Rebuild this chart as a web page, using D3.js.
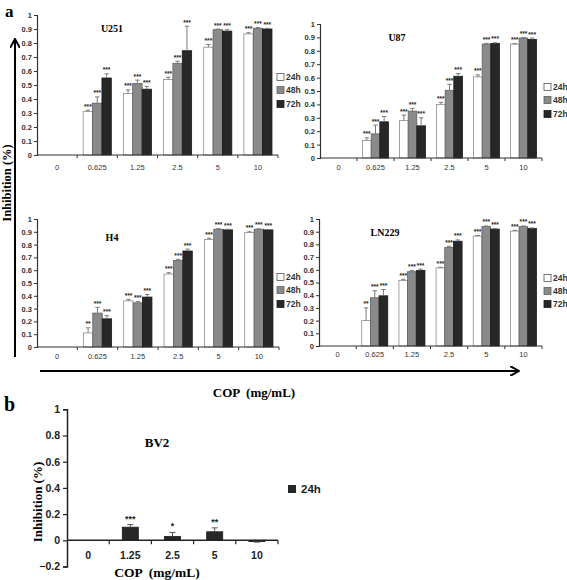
<!DOCTYPE html>
<html><head><meta charset="utf-8">
<script src="https://cdn.jsdelivr.net/npm/d3@7"></script>
<style>
html,body{margin:0;padding:0;background:#fff;}
svg{display:block;}
.serif{font-family:"Liberation Serif","DejaVu Serif",serif;font-weight:bold;}
.sans{font-family:"Liberation Sans",Arial,sans-serif;}
</style></head>
<body>
<svg id="chart" width="567" height="580"></svg>
<script>
// ---------- DATA ----------
const categories = ["0", "0.625", "1.25", "2.5", "5", "10"];
const seriesNames = ["24h", "48h", "72h"];
const yTickValues = [0, 0.1, 0.2, 0.3, 0.4, 0.5, 0.6, 0.7, 0.8, 0.9, 1];

// means per series (24h, 48h, 72h), one value per category
const u251Means = [
  [null, 0.31, 0.44, 0.54, 0.77, 0.865],
  [null, 0.37, 0.51, 0.655, 0.895, 0.905],
  [null, 0.55, 0.47, 0.745, 0.885, 0.90]
];
const u251Errs = [
  [null, 0.01, 0.025, 0.015, 0.02, 0.008],
  [null, 0.045, 0.025, 0.015, 0.005, 0.005],
  [null, 0.03, 0.02, 0.175, 0.01, 0.005]
];
const u251Stars = [
  ["", "***", "***", "***", "***", "***"],
  ["", "***", "***", "***", "***", "***"],
  ["", "***", "***", "***", "***", "***"]
];

const u87Means = [
  [null, 0.13, 0.28, 0.40, 0.605, 0.85],
  [null, 0.18, 0.35, 0.505, 0.85, 0.895],
  [null, 0.27, 0.24, 0.61, 0.855, 0.885]
];
const u87Errs = [
  [null, 0.02, 0.04, 0.015, 0.015, 0.003],
  [null, 0.065, 0.02, 0.045, 0.005, 0.003],
  [null, 0.04, 0.06, 0.02, 0.005, 0.01]
];
const u87Stars = [
  ["", "***", "***", "***", "***", "***"],
  ["", "***", "***", "***", "***", "***"],
  ["", "***", "***", "***", "***", "***"]
];

const h4Means = [
  [null, 0.11, 0.36, 0.57, 0.84, 0.895],
  [null, 0.265, 0.345, 0.675, 0.92, 0.92],
  [null, 0.22, 0.39, 0.75, 0.915, 0.915]
];
const h4Errs = [
  [null, 0.04, 0.01, 0.01, 0.01, 0.005],
  [null, 0.045, 0.01, 0.01, 0.005, 0.003],
  [null, 0.025, 0.02, 0.015, 0.005, 0.003]
];
const h4Stars = [
  ["", "**", "***", "***", "***", "***"],
  ["", "***", "***", "***", "***", "***"],
  ["", "***", "***", "***", "***", "***"]
];

const ln229Means = [
  [null, 0.20, 0.515, 0.615, 0.865, 0.905],
  [null, 0.38, 0.585, 0.775, 0.94, 0.94],
  [null, 0.395, 0.595, 0.825, 0.92, 0.925]
];
const ln229Errs = [
  [null, 0.10, 0.01, 0.005, 0.005, 0.005],
  [null, 0.055, 0.01, 0.01, 0.005, 0.005],
  [null, 0.05, 0.01, 0.01, 0.005, 0.005]
];
const ln229Stars = [
  ["", "**", "***", "***", "***", "***"],
  ["", "***", "***", "***", "***", "***"],
  ["", "***", "***", "***", "***", "***"]
];

const bv2Categories = ["0", "1.25", "2.5", "5", "10"];
const bv2Means = [null, 0.10, 0.03, 0.065, -0.01];
const bv2Errs = [null, 0.02, 0.03, 0.03, 0.004];
const bv2Stars = ["", "***", "*", "**", ""];
const bv2YTicks = [-0.2, 0, 0.2, 0.4, 0.6, 0.8, 1];

// ---------- STYLE ----------
const fills = ["#ffffff", "#8a8a8a", "#272727"];
const strokes = ["#8c8c8c", "#5e5e5e", "#1a1a1a"];

const svg = d3.select("#chart");

function drawPanel(p) {
  const g = svg.append("g");
  const x = d3.scaleBand().domain(categories).range([p.x0, p.x1]).padding(0);
  const step = x.step();
  const xs = d3.scaleBand().domain(seriesNames).range([step * 0.15, step * 0.85]).padding(0);
  const y = d3.scaleLinear().domain([0, 1]).range([p.yZero, p.yTop]);

  seriesNames.forEach((s, si) => {
    categories.forEach((c, ci) => {
      const v = p.means[si][ci];
      if (v == null) return;
      const bx = x(c) + xs(s);
      const bw = xs.bandwidth();
      g.append("rect")
        .attr("x", bx).attr("y", y(v))
        .attr("width", bw).attr("height", y(0) - y(v))
        .attr("fill", fills[si]).attr("stroke", strokes[si]).attr("stroke-width", 0.8);
      const e = p.errs[si][ci];
      const cx = bx + bw / 2;
      const top = y(v + e);
      g.append("line").attr("x1", cx).attr("x2", cx).attr("y1", y(v)).attr("y2", top)
        .attr("stroke", "#7a7a7a").attr("stroke-width", 1);
      g.append("line").attr("x1", cx - 2.2).attr("x2", cx + 2.2).attr("y1", top).attr("y2", top)
        .attr("stroke", "#7a7a7a").attr("stroke-width", 1);
      g.append("text").attr("class", "sans")
        .attr("x", cx).attr("y", top - 1.5)
        .attr("text-anchor", "middle")
        .attr("font-size", 6.5).attr("font-weight", "bold").attr("fill", "#222")
        .text(p.stars[si][ci]);
    });
  });

  const yAxis = d3.axisLeft(y).tickValues(yTickValues).tickSize(3).tickPadding(2)
    .tickFormat(d3.format("~g"));
  const ya = g.append("g").attr("transform", `translate(${p.x0},0)`).call(yAxis);
  ya.select(".domain").attr("stroke", "#333").attr("stroke-width", 1.2);
  ya.selectAll(".tick line").attr("stroke", "#333");
  ya.selectAll("text").attr("class", "sans").attr("font-size", 7.5).attr("font-weight", "bold").attr("fill", "#333");

  const xl = g.append("g");
  xl.append("line").attr("x1", p.x0).attr("x2", p.x1).attr("y1", p.yZero).attr("y2", p.yZero)
    .attr("stroke", "#333").attr("stroke-width", 1.2);
  categories.forEach(c => {
    const ex = x(c) + step;
    xl.append("line").attr("x1", ex).attr("x2", ex).attr("y1", p.yZero).attr("y2", p.yZero + 3)
      .attr("stroke", "#333");
    xl.append("text").attr("class", "sans")
      .attr("x", x(c) + step / 2).attr("y", p.labelY)
      .attr("text-anchor", "middle").attr("font-size", 7.5).attr("fill", "#333")
      .text(c);
  });

  g.append("text").attr("class", "serif").attr("x", p.titleX).attr("y", p.titleY)
    .attr("text-anchor", "middle").attr("font-size", 10).text(p.name);

  seriesNames.forEach((s, si) => {
    g.append("rect").attr("x", p.legX).attr("y", p.legY[si] - 3.5).attr("width", 7).attr("height", 7)
      .attr("fill", fills[si]).attr("stroke", si === 0 ? "#555" : strokes[si]).attr("stroke-width", 0.8);
    g.append("text").attr("class", "sans").attr("x", p.legX + 9).attr("y", p.legY[si])
      .attr("dominant-baseline", "central").attr("font-size", 8.5).attr("font-weight", "bold")
      .attr("fill", "#333").text(s);
  });
}

drawPanel({name: "U251", means: u251Means, errs: u251Errs, stars: u251Stars,
  x0: 37, x1: 278, yTop: 15, yZero: 155, labelY: 170, titleX: 112, titleY: 32, legX: 277, legY: [77, 90, 104]});
drawPanel({name: "U87", means: u87Means, errs: u87Errs, stars: u87Stars,
  x0: 320, x1: 542, yTop: 24, yZero: 158, labelY: 170, titleX: 397, titleY: 41, legX: 544, legY: [87, 100, 114]});
drawPanel({name: "H4", means: h4Means, errs: h4Errs, stars: h4Stars,
  x0: 37, x1: 279, yTop: 219, yZero: 347, labelY: 359, titleX: 112, titleY: 241, legX: 277, legY: [277, 290, 304]});
drawPanel({name: "LN229", means: ln229Means, errs: ln229Errs, stars: ln229Stars,
  x0: 319, x1: 542, yTop: 219, yZero: 346, labelY: 357, titleX: 385, titleY: 236, legX: 544, legY: [278, 291, 304]});

// ---------- big arrows & labels (panel a) ----------
const defs = svg.append("defs");
defs.append("marker").attr("id", "arr").attr("viewBox", "0 0 10 10").attr("refX", 8).attr("refY", 5)
  .attr("markerWidth", 5).attr("markerHeight", 5).attr("orient", "auto")
  .append("path").attr("d", "M0,0 L9,5 L0,10").attr("fill", "none").attr("stroke", "#000").attr("stroke-width", 2);

svg.append("line").attr("x1", 15).attr("y1", 357).attr("x2", 15).attr("y2", 40)
  .attr("stroke", "#000").attr("stroke-width", 2).attr("marker-end", "url(#arr)");
svg.append("line").attr("x1", 40).attr("y1", 371).attr("x2", 518).attr("y2", 371)
  .attr("stroke", "#000").attr("stroke-width", 2).attr("marker-end", "url(#arr)");

svg.append("text").attr("class", "serif").attr("font-size", 12.5)
  .attr("transform", "translate(11,183) rotate(-90)").attr("text-anchor", "middle").text("Inhibition (%)");
svg.append("text").attr("class", "serif").attr("font-size", 13).attr("x", 254).attr("y", 397)
  .attr("text-anchor", "middle").style("white-space", "pre").text("COP  (mg/mL)");
svg.append("text").attr("class", "serif").attr("font-size", 17).attr("x", 5).attr("y", 17).text("a");
svg.append("text").attr("class", "serif").attr("font-size", 20).attr("x", 4).attr("y", 411).text("b");

// ---------- panel b: BV2 ----------
(function () {
  const g = svg.append("g");
  const x0 = 67, x1 = 278;
  const x = d3.scaleBand().domain(bv2Categories).range([x0, x1]).padding(0);
  const step = x.step();
  const y = d3.scaleLinear().domain([-0.2, 1]).range([566.5, 409.3]);
  const bw = step * 0.38;

  bv2Categories.forEach((c, i) => {
    const v = bv2Means[i];
    if (v == null) return;
    const cx = x(c) + step / 2;
    g.append("rect").attr("x", cx - bw / 2).attr("y", Math.min(y(v), y(0)))
      .attr("width", bw).attr("height", Math.abs(y(v) - y(0)))
      .attr("fill", "#272727").attr("stroke", "#1a1a1a").attr("stroke-width", 0.8);
    const e = bv2Errs[i];
    const top = v >= 0 ? y(v + e) : y(v - e);
    g.append("line").attr("x1", cx).attr("x2", cx).attr("y1", y(v)).attr("y2", top)
      .attr("stroke", "#555").attr("stroke-width", 1);
    g.append("line").attr("x1", cx - 3).attr("x2", cx + 3).attr("y1", top).attr("y2", top)
      .attr("stroke", "#555").attr("stroke-width", 1);
    if (bv2Stars[i]) {
      g.append("text").attr("class", "sans").attr("x", cx).attr("y", top - 3)
        .attr("text-anchor", "middle").attr("font-size", 9).attr("font-weight", "bold").attr("fill", "#222")
        .text(bv2Stars[i]);
    }
  });

  const ya = g.append("g").attr("transform", `translate(${x0},0)`)
    .call(d3.axisLeft(y).tickValues(bv2YTicks).tickSize(4).tickPadding(3).tickFormat(d3.format("~g")));
  ya.select(".domain").attr("stroke", "#222").attr("stroke-width", 1.5);
  ya.selectAll(".tick line").attr("stroke", "#222").attr("stroke-width", 1.2);
  ya.selectAll("text").attr("class", "sans").attr("font-size", 10.5).attr("font-weight", "bold").attr("fill", "#222");

  g.append("line").attr("x1", x0).attr("x2", x1).attr("y1", y(0)).attr("y2", y(0))
    .attr("stroke", "#222").attr("stroke-width", 1.5);
  bv2Categories.forEach(c => {
    const ex = x(c) + step;
    g.append("line").attr("x1", ex).attr("x2", ex).attr("y1", y(0)).attr("y2", y(0) + 4)
      .attr("stroke", "#222").attr("stroke-width", 1.2);
    g.append("text").attr("class", "sans").attr("x", x(c) + step / 2).attr("y", 559)
      .attr("text-anchor", "middle").attr("font-size", 10.5).attr("font-weight", "bold").attr("fill", "#222").text(c);
  });

  g.append("text").attr("class", "serif").attr("x", 157).attr("y", 447).attr("text-anchor", "middle")
    .attr("font-size", 13).text("BV2");
  g.append("text").attr("class", "serif").attr("font-size", 13)
    .attr("transform", "translate(42,502) rotate(-90)").attr("text-anchor", "middle").text("Inhibition (%)");
  g.append("text").attr("class", "serif").attr("font-size", 13.5).attr("x", 157).attr("y", 577)
    .attr("text-anchor", "middle").style("white-space", "pre").text("COP  (mg/mL)");

  g.append("rect").attr("x", 288).attr("y", 485).attr("width", 8).attr("height", 8).attr("fill", "#272727");
  g.append("text").attr("class", "sans").attr("x", 301).attr("y", 489).attr("dominant-baseline", "central")
    .attr("font-size", 11.5).attr("font-weight", "bold").attr("fill", "#222").text("24h");
})();
</script>
</body></html>
